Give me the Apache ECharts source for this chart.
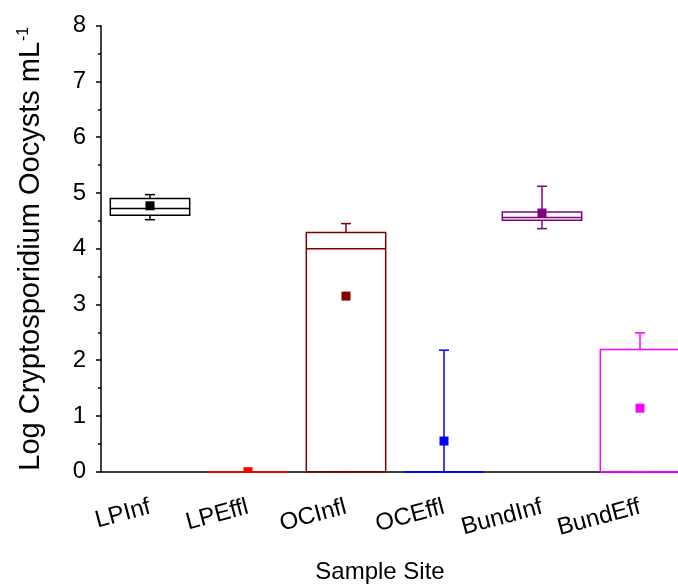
<!DOCTYPE html>
<html>
<head>
<meta charset="utf-8">
<script src="https://cdn.jsdelivr.net/npm/echarts@6/dist/echarts.min.js"></script>
<style>
  html, body { margin: 0; padding: 0; background: #fff; }
  #chart { width: 678px; height: 584px; }
</style>
</head>
<body>
<div id="chart"></div>
<script>
// Sample sites along the x axis
const categories = ['LPInf', 'LPEffl', 'OCInfl', 'OCEffl', 'BundInf', 'BundEff'];
// Box statistics per site (log oocysts per mL)
const whiskerLow  = [4.52, 0, 0,    0,    4.36, 0];
const quartile1   = [4.60, 0, 0,    0,    4.51, 0];
const medians     = [4.72, 0, 4.00, 0,    4.56, 0];
const quartile3   = [4.90, 0, 4.29, 0,    4.66, 2.19];
const whiskerHigh = [4.97, 0, 4.45, 2.18, 5.12, 2.49];
const means       = [4.77, 0, 3.15, 0.55, 4.64, 1.14];
// Y axis ticks
const yTicks = [0, 1, 2, 3, 4, 5, 6, 7, 8];

const palette = ['#000000', '#ff0000', '#800000', '#0000ff', '#800080', '#ff00ff'];
const FONT = '"Liberation Sans", Arial, sans-serif';

const seriesData = categories.map((c, i) => [
  i, whiskerLow[i], quartile1[i], medians[i], quartile3[i], whiskerHigh[i], means[i]
]);

function renderBox(params, api) {
  const i = api.value(0);
  const color = palette[i];
  const cx = api.coord([i, 0])[0];
  const yOf = v => api.coord([i, v])[1];
  const yLo = yOf(api.value(1));
  const yQ1 = yOf(api.value(2));
  const yMed = yOf(api.value(3));
  const yQ3 = yOf(api.value(4));
  const yHi = yOf(api.value(5));
  const yMean = yOf(api.value(6));
  const bw = api.size([1, 0])[0] * 0.81;
  const cap = 5;
  const lineStyle = { stroke: color, lineWidth: 1.5, fill: null };
  // mean marker is clipped at the bottom of the plot area
  const bottom = params.coordSys.y + params.coordSys.height;
  const m = 4.5;
  const mTop = yMean - m;
  const mBot = Math.min(yMean + m, bottom);
  return {
    type: 'group',
    children: [
      { type: 'rect', shape: { x: cx - bw / 2, y: yQ3, width: bw, height: yQ1 - yQ3 }, style: lineStyle },
      { type: 'line', shape: { x1: cx - bw / 2, y1: yMed, x2: cx + bw / 2, y2: yMed }, style: lineStyle },
      { type: 'line', shape: { x1: cx, y1: yQ3, x2: cx, y2: yHi }, style: lineStyle },
      { type: 'line', shape: { x1: cx - cap, y1: yHi, x2: cx + cap, y2: yHi }, style: lineStyle },
      { type: 'line', shape: { x1: cx, y1: yQ1, x2: cx, y2: yLo }, style: lineStyle },
      { type: 'line', shape: { x1: cx - cap, y1: yLo, x2: cx + cap, y2: yLo }, style: lineStyle },
      { type: 'rect', shape: { x: cx - m, y: mTop, width: 2 * m, height: mBot - mTop }, style: { fill: color, stroke: null } }
    ]
  };
}

const chart = echarts.init(document.getElementById('chart'), null, { renderer: 'canvas' });
chart.setOption({
  animation: false,
  backgroundColor: '#ffffff',
  grid: { left: 101, top: 25.7, width: 588, height: 446, outerBoundsMode: 'none', containLabel: false },
  xAxis: {
    type: 'category',
    data: categories,
    name: 'Sample Site',
    nameLocation: 'middle',
    nameGap: 89,
    nameTextStyle: { fontFamily: FONT, fontSize: 24, color: '#000', padding: [0, 30, 0, 0] },
    axisLine: { lineStyle: { color: '#000', width: 1.5 } },
    axisTick: { alignWithLabel: true, length: 6, lineStyle: { color: '#000', width: 1.5 } },
    axisLabel: { rotate: 15, margin: 35, fontFamily: FONT, fontSize: 24, color: '#000', interval: 0 },
    splitLine: { show: false }
  },
  yAxis: {
    type: 'value',
    min: yTicks[0],
    max: yTicks[yTicks.length - 1],
    interval: 1,
    name: '{a|Log Cryptosporidium Oocysts mL}{s|-1}',
    nameLocation: 'middle',
    nameGap: 55,
    nameTextStyle: {
      fontFamily: FONT, color: '#000',
      rich: {
        a: { fontFamily: FONT, fontSize: 29, color: '#000' },
        s: { fontFamily: FONT, fontSize: 16, color: '#000', verticalAlign: 'top', padding: [0, 0, 14, 1] }
      }
    },
    axisLine: { show: true, lineStyle: { color: '#000', width: 1.5 } },
    axisTick: { show: true, length: 5, lineStyle: { color: '#000', width: 1.5 } },
    minorTick: { show: true, splitNumber: 2, length: 3, lineStyle: { color: '#000', width: 1.5 } },
    axisLabel: { margin: 15, fontFamily: FONT, fontSize: 24, color: '#000' },
    splitLine: { show: false }
  },
  series: [{
    type: 'custom',
    renderItem: renderBox,
    encode: { x: 0, y: [1, 2, 3, 4, 5, 6] },
    data: seriesData,
    z: 3
  }]
});
</script>
</body>
</html>
